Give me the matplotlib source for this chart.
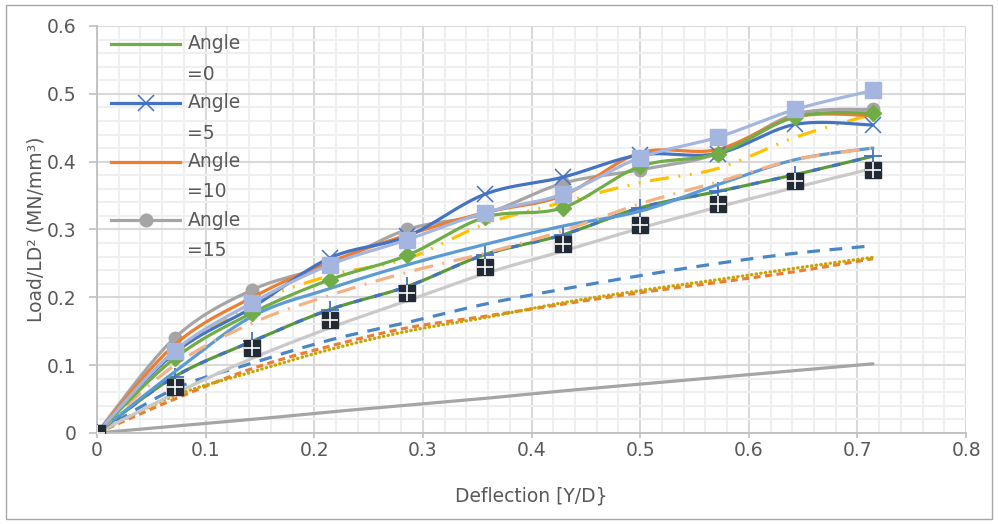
import numpy as np
import matplotlib
matplotlib.use("Agg")
import matplotlib.pyplot as plt
from matplotlib.lines import Line2D
from matplotlib.patches import Rectangle

plt.rcParams['font.family'] = ['DejaVu Sans']

# deflection ratio Y/D
defl = [0, 0.0714, 0.1429, 0.2143, 0.2857, 0.3571, 0.4286, 0.5, 0.5714, 0.6429, 0.7143]

angle0 = [0, 0.110, 0.177, 0.226, 0.262, 0.318, 0.332, 0.393, 0.412, 0.466, 0.472]
angle5 = [0, 0.118, 0.185, 0.258, 0.290, 0.352, 0.377, 0.410, 0.412, 0.455, 0.454]
angle10 = [0, 0.130, 0.200, 0.252, 0.292, 0.325, 0.350, 0.413, 0.418, 0.466, 0.468]
angle15 = [0, 0.140, 0.211, 0.248, 0.300, 0.323, 0.368, 0.388, 0.412, 0.470, 0.477]
lav_sq = [0, 0.121, 0.192, 0.248, 0.285, 0.325, 0.352, 0.406, 0.436, 0.477, 0.505]
gold_dd = [0, 0.115, 0.190, 0.232, 0.257, 0.308, 0.340, 0.369, 0.390, 0.436, 0.470]
salmon_dd = [0, 0.100, 0.162, 0.203, 0.237, 0.265, 0.298, 0.338, 0.370, 0.403, 0.420]
sky = [0, 0.090, 0.172, 0.213, 0.248, 0.278, 0.305, 0.327, 0.366, 0.403, 0.420]
combo = [0, 0.083, 0.135, 0.182, 0.216, 0.263, 0.292, 0.332, 0.356, 0.381, 0.408]
lgray = [0, 0.058, 0.110, 0.155, 0.195, 0.235, 0.268, 0.302, 0.333, 0.362, 0.390]
dark_sq = [0, 0.068, 0.126, 0.167, 0.207, 0.245, 0.278, 0.307, 0.337, 0.371, 0.388]
blue_dash = [0, 0.065, 0.103, 0.137, 0.163, 0.190, 0.212, 0.232, 0.250, 0.265, 0.276]
orange_dash = [0, 0.050, 0.095, 0.128, 0.155, 0.172, 0.190, 0.207, 0.222, 0.238, 0.257]
gold_dot = [0, 0.055, 0.090, 0.123, 0.150, 0.170, 0.192, 0.210, 0.226, 0.243, 0.259]
gray_line = [0, 0.010, 0.020, 0.031, 0.041, 0.051, 0.062, 0.072, 0.082, 0.092, 0.102]

legend_labels = ['Angle\n=0', 'Angle\n=5', 'Angle\n=10', 'Angle\n=15']

FS = 13.5
TXT = '#595959'


def smooth(x, y, n=24):
    # bezier smoothing through every point, like a spreadsheet "smoothed line"
    x = np.asarray(x, float)
    y = np.asarray(y, float)
    px = np.concatenate([[x[0]], x, [x[-1]]])
    py = np.concatenate([[y[0]], y, [y[-1]]])
    t = np.linspace(0, 1, n)
    ox, oy = [], []
    for i in range(1, len(px) - 2):
        p0 = np.array([px[i], py[i]])
        p3 = np.array([px[i + 1], py[i + 1]])
        c1 = p0 + (p3 - np.array([px[i - 1], py[i - 1]])) / 6
        c2 = p3 - (np.array([px[i + 2], py[i + 2]]) - p0) / 6
        b = ((1 - t) ** 3)[:, None] * p0 + (3 * (1 - t) ** 2 * t)[:, None] * c1 \
            + (3 * (1 - t) * t ** 2)[:, None] * c2 + (t ** 3)[:, None] * p3
        ox.extend(b[:, 0])
        oy.extend(b[:, 1])
    return np.array(ox), np.array(oy)


fig = plt.figure(figsize=(9.98, 5.24), dpi=100)
ax = fig.add_axes([0.0972, 0.1737, 0.8708, 0.7767])

lw = 2.3


def curve(y, color, z, width=lw, dashes=None, cap='butt'):
    sx, sy = smooth(defl, y)
    ln, = ax.plot(sx, sy, color=color, lw=width, zorder=z,
                  solid_capstyle='round', dash_capstyle=cap)
    if dashes is not None:
        ln.set_dashes(dashes)
    return ln


# low curves
curve(gray_line, '#A5A5A5', 2)
curve(gold_dot, '#C9A400', 2.2, dashes=(0.1, 1.3), cap='round', width=2.4)
curve(orange_dash, '#ED7D31', 2.1, dashes=(2.2, 1.4))
curve(blue_dash, '#4A86C6', 2.3, dashes=(4.0, 3.0))

# middle group
curve(lgray, '#C9C9C9', 3)
curve(combo, '#5B9A3C', 3.1)
curve(combo, '#4472C4', 3.2, dashes=(2.5, 4.0))
ax.plot(defl, combo, ls='none', marker='+', ms=13, mew=1.3, color='#4472C4', zorder=3.3)
curve(sky, '#5B9BD5', 3.4)
curve(salmon_dd, '#F4B183', 3.5, dashes=(6.0, 3.0, 0.6, 3.0))
curve(gold_dd, '#FFC000', 3.6, dashes=(6.0, 3.0, 0.6, 3.0, 0.6, 3.0))

# angle series
curve(angle15, '#A5A5A5', 4)
ax.plot(defl, angle15, ls='none', marker='o', ms=9, color='#A5A5A5', zorder=4.1)
curve(angle10, '#ED7D31', 4.2)
curve(angle5, '#4472C4', 4.3)
ax.plot(defl, angle5, ls='none', marker='x', ms=12, mew=1.1, color='#4472C4', zorder=4.35)
curve(angle0, '#70AD47', 4.4)
ax.plot(defl, angle0, ls='none', marker='D', ms=8, color='#70AD47', zorder=4.45)
curve(lav_sq, '#A4B6DF', 4.5)
ax.plot(defl, lav_sq, ls='none', marker='s', ms=11, color='#A4B6DF', zorder=4.55)

# dark squares with white cross
ax.plot(defl, dark_sq, ls='none', marker='s', ms=12, color='#222A35', zorder=5)
ax.plot(defl, dark_sq, ls='none', marker='+', ms=12, mew=1.2, color='white', zorder=5.1)

ax.set_xlim(0, 0.8)
ax.set_ylim(0, 0.6)
ax.set_xticks(np.arange(0, 0.81, 0.1))
ax.set_yticks(np.arange(0, 0.61, 0.1))
ax.set_xticklabels(['0', '0.1', '0.2', '0.3', '0.4', '0.5', '0.6', '0.7', '0.8'])
ax.set_yticklabels(['0', '0.1', '0.2', '0.3', '0.4', '0.5', '0.6'])
ax.set_xticks(np.arange(0, 0.801, 0.02), minor=True)
ax.set_yticks(np.arange(0, 0.601, 0.02), minor=True)
ax.grid(which='major', color='#D9D9D9', lw=1.5, zorder=0)
ax.grid(which='minor', color='#EFEFEF', lw=1.5, zorder=0)
ax.set_axisbelow(True)
ax.tick_params(which='minor', length=0)
ax.tick_params(which='major', color='#BFBFBF', width=1.2, labelsize=FS, labelcolor=TXT)
ax.tick_params(axis='y', length=6, pad=9)
ax.tick_params(axis='x', length=3.6, pad=2.5)
for s in ['top', 'right']:
    ax.spines[s].set_visible(False)
for s in ['left', 'bottom']:
    ax.spines[s].set_color('#BFBFBF')
    ax.spines[s].set_linewidth(1.3)

ax.set_xlabel('Deflection [Y/D}', fontsize=FS, color=TXT, labelpad=19)
ax.set_ylabel('Load/LD² (MN/mm³)', fontsize=FS, color=TXT, labelpad=1)

# legend keys, first text line level with the key
keys = [('#70AD47', None), ('#4472C4', 'x'), ('#ED7D31', None), ('#A5A5A5', 'o')]
for k, ((c, m), lab) in enumerate(zip(keys, legend_labels)):
    yk = 0.956 - k * 0.1445
    ax.add_line(Line2D([0.016, 0.096], [yk, yk], transform=ax.transAxes, color=c, lw=lw,
                       zorder=6))
    if m is not None:
        ax.add_line(Line2D([0.056], [yk], transform=ax.transAxes, color=c, marker=m,
                           ms=12 if m == 'x' else 9, mew=1.1, zorder=6.1))
    ax.text(0.104, yk + 0.024, lab, transform=ax.transAxes, fontsize=FS,
            color=TXT, va='top', ha='left', linespacing=1.78)

fig.add_artist(Rectangle((0.006, 0.01), 0.988, 0.98, transform=fig.transFigure,
                         fill=False, edgecolor='#A6A6A6', lw=1))

fig.savefig('out.png', dpi=100)
